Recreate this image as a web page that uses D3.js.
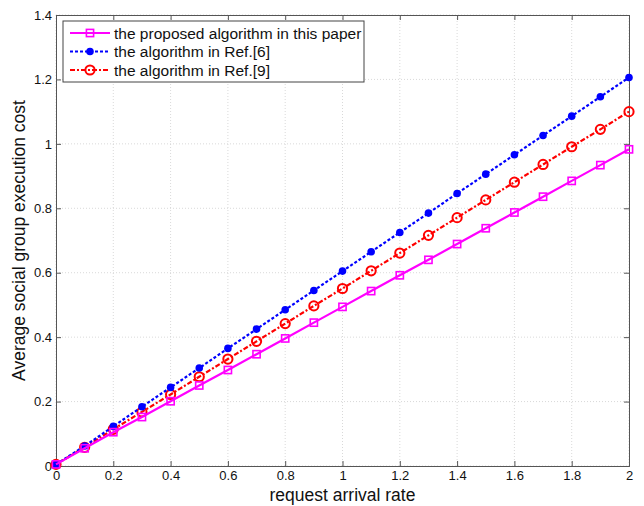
<!DOCTYPE html>
<head>
    <title>Execution cost</title>
    <script src="https://d3js.org/d3.v7.min.js"></script>
    <style>
        body {
            margin: 0;
            background-color: #fff;
        }
        text {
            font-family: "Liberation Sans", Arial, sans-serif;
        }
    </style>
</head>
<body>
    <svg></svg>
    <script type="text/javascript">
        // request arrival rate
        const rates = [0, 0.1, 0.2, 0.3, 0.4, 0.5, 0.6, 0.7, 0.8, 0.9, 1, 1.1, 1.2, 1.3, 1.4, 1.5, 1.6, 1.7, 1.8, 1.9, 2]
        const proposed = [0.005, 0.055, 0.105, 0.152, 0.201, 0.25, 0.298, 0.347, 0.396, 0.445, 0.494, 0.543, 0.592, 0.64, 0.689, 0.738, 0.787, 0.836, 0.885, 0.934, 0.983]
        const ref6 = [0.005, 0.062, 0.123, 0.184, 0.244, 0.304, 0.365, 0.425, 0.485, 0.545, 0.605, 0.665, 0.725, 0.785, 0.846, 0.906, 0.966, 1.026, 1.086, 1.146, 1.206]
        const ref9 = [0.005, 0.058, 0.114, 0.168, 0.222, 0.277, 0.332, 0.387, 0.442, 0.497, 0.551, 0.606, 0.661, 0.716, 0.771, 0.826, 0.881, 0.936, 0.991, 1.045, 1.1]
        const xTicks = [0, 0.2, 0.4, 0.6, 0.8, 1, 1.2, 1.4, 1.6, 1.8, 2]
        const yTicks = [0, 0.2, 0.4, 0.6, 0.8, 1, 1.2, 1.4]
        const legendNames = ['the proposed algorithm in this paper', 'the algorithm in Ref.[6]', 'the algorithm in Ref.[9]']

        let W = 644, H = 506
        let margin = {left: 56, right: 15, top: 15, bottom: 40}

        let svg = d3.select('svg').attr('width', W).attr('height', H)

        let xScale = d3.scaleLinear().domain([0, 2]).range([margin.left, W - margin.right])
        let yScale = d3.scaleLinear().domain([0, 1.4]).range([H - margin.bottom, margin.top])

        let x0 = xScale(0), x1 = xScale(2), y0 = yScale(0), y1 = yScale(1.4)

        // grid
        let grid = svg.append('g')
        grid.selectAll('line.gx').data(xTicks).enter().append('line')
            .attr('x1', d => xScale(d)).attr('x2', d => xScale(d))
            .attr('y1', y0).attr('y2', y1)
            .attr('stroke', '#cfcfcf').attr('stroke-width', 0.8)
            .attr('stroke-dasharray', '1 2')
        grid.selectAll('line.gy').data(yTicks).enter().append('line')
            .attr('y1', d => yScale(d)).attr('y2', d => yScale(d))
            .attr('x1', x0).attr('x2', x1)
            .attr('stroke', '#cfcfcf').attr('stroke-width', 0.8)
            .attr('stroke-dasharray', '1 2')

        // axes (ticks inward, MATLAB style)
        let xAxis = d3.axisBottom(xScale).tickValues(xTicks).tickSize(-5).tickPadding(5).tickFormat(d => d)
        let yAxis = d3.axisLeft(yScale).tickValues(yTicks).tickSize(-5).tickPadding(4).tickFormat(d => d)
        let xTop = d3.axisTop(xScale).tickValues(xTicks).tickSize(-5).tickFormat('')
        let yRight = d3.axisRight(yScale).tickValues(yTicks).tickSize(-5).tickFormat('')

        let axes = [
            svg.append('g').attr('transform', `translate(0,${y0})`).call(xAxis),
            svg.append('g').attr('transform', `translate(${x0},0)`).call(yAxis),
            svg.append('g').attr('transform', `translate(0,${y1})`).call(xTop),
            svg.append('g').attr('transform', `translate(${x1},0)`).call(yRight)
        ]
        axes.forEach(g => {
            g.selectAll('path').attr('stroke', '#555')
            g.selectAll('line').attr('stroke', '#555')
            g.selectAll('text').attr('fill', '#111').style('font-size', '13px')
        })

        // axis labels
        svg.append('text').text('request arrival rate')
            .attr('x', (x0 + x1) / 2).attr('y', 501)
            .attr('text-anchor', 'middle').style('font-size', '17.5px').attr('fill', '#111')
        svg.append('text').text('Average social group execution cost')
            .attr('transform', `translate(25,${(y0 + y1) / 2}) rotate(-90)`)
            .attr('text-anchor', 'middle').style('font-size', '17.5px').attr('fill', '#111')

        let series = [
            {name: legendNames[0], values: proposed, color: '#ff00ff', dash: null, marker: 'square'},
            {name: legendNames[1], values: ref6, color: '#0000ff', dash: '3 2', marker: 'dot'},
            {name: legendNames[2], values: ref9, color: '#ff0000', dash: '5 2 2 2', marker: 'circle'}
        ]

        let line = d3.line().x((d, i) => xScale(rates[i])).y(d => yScale(d))

        let drawMarker = (g, kind, color, x, y) => {
            if (kind == 'square') {
                g.append('rect').attr('x', x - 3.6).attr('y', y - 3.6).attr('width', 7.2).attr('height', 7.2)
                    .attr('fill', 'none').attr('stroke', color).attr('stroke-width', 1.6)
            } else if (kind == 'dot') {
                g.append('circle').attr('cx', x).attr('cy', y).attr('r', 3.8).attr('fill', color)
            } else {
                g.append('circle').attr('cx', x).attr('cy', y).attr('r', 4.6)
                    .attr('fill', 'none').attr('stroke', color).attr('stroke-width', 2)
            }
        }

        // draw in reverse so the proposed line is on top at the origin
        series.slice().reverse().forEach(s => {
            let g = svg.append('g')
            g.append('path').datum(s.values).attr('d', line)
                .attr('fill', 'none').attr('stroke', s.color).attr('stroke-width', 2.2)
                .attr('stroke-dasharray', s.dash)
            s.values.forEach((v, i) => drawMarker(g, s.marker, s.color, xScale(rates[i]), yScale(v)))
        })

        // legend
        let lg = svg.append('g')
        lg.append('rect').attr('x', 63).attr('y', 21).attr('width', 301).attr('height', 61)
            .attr('fill', '#fff').attr('stroke', '#444').attr('stroke-width', 1)
        series.forEach((s, i) => {
            let ly = 33 + i * 18.5
            lg.append('line').attr('x1', 70).attr('x2', 110).attr('y1', ly).attr('y2', ly)
                .attr('stroke', s.color).attr('stroke-width', 2.2).attr('stroke-dasharray', s.dash)
            drawMarker(lg, s.marker, s.color, 90, ly)
            lg.append('text').text(s.name).attr('x', 114).attr('y', ly + 5.5)
                .style('font-size', '15.5px').attr('fill', '#111')
        })
    </script>
</body>
